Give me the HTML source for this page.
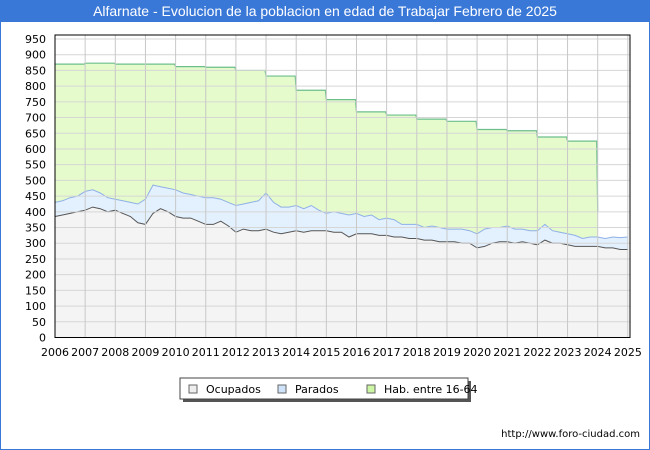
<!DOCTYPE html>
<html><head><meta charset="utf-8"><style>
body{margin:0;width:650px;height:450px;overflow:hidden;background:#fff;font-family:"Liberation Sans","DejaVu Sans",sans-serif}
#frame{position:absolute;left:0;top:0;width:648px;height:448px;border:1px solid #3a78d8}
#title{position:absolute;left:0;top:0;width:650px;height:22px;background:#3a78d8;color:#fff;font-size:14px;line-height:22px;text-align:center}
svg text{font-family:"DejaVu Sans","Liberation Sans",sans-serif}
</style></head><body>
<div id="frame"></div>
<div id="title">Alfarnate - Evolucion de la poblacion en edad de Trabajar Febrero de 2025</div>
<svg id="chart" width="650" height="450" style="position:absolute;left:0;top:0"></svg>
<script>
const years=[2006,2007,2008,2009,2010,2011,2012,2013,2014,2015,2016,2017,2018,2019,2020,2021,2022,2023,2024,2025];
const yTicks=[0,50,100,150,200,250,300,350,400,450,500,550,600,650,700,750,800,850,900,950];
const habYears=[2006,2007,2008,2009,2010,2011,2012,2013,2014,2015,2016,2017,2018,2019,2020,2021,2022,2023];
const habValues=[870,873,870,870,862,860,850,832,787,757,718,708,695,688,662,658,638,625];
const totalValues=[430,435,445,450,465,470,460,445,440,435,430,425,440,485,480,475,470,460,455,450,445,445,440,430,420,425,430,435,460,430,415,415,420,410,420,405,395,400,395,390,395,385,390,375,380,375,360,360,360,350,355,350,345,345,345,340,330,345,350,350,355,345,345,340,340,360,340,335,330,325,315,320,320,315,320,318,320];
const ocupadosValues=[385,390,395,400,405,415,410,400,405,395,385,365,360,395,410,400,385,380,380,370,360,360,370,355,335,345,340,340,345,335,330,335,340,335,340,340,340,335,335,320,330,330,330,325,325,320,320,315,315,310,310,305,305,305,300,300,285,290,300,305,305,300,305,300,295,310,300,300,295,290,290,290,290,285,285,280,280];
const legendLabels=["Ocupados","Parados","Hab. entre 16-64"];

const NS="http://www.w3.org/2000/svg";
const svg=document.getElementById('chart');
const L=55,R=630,T=35,B=337.5;
const x=v=>55+(v-2006)*30.15;
const y=v=>337.5-v*(298.5/950);
function el(t,a,p){const e=document.createElementNS(NS,t);for(const k in a)e.setAttribute(k,a[k]);(p||svg).appendChild(e);return e;}
const bg=el('rect',{x:L,y:T,width:R-L,height:B-T,fill:'#fff'});


const qx=i=>x(2006+i*0.25);
let hp=`M${x(2006)},${B}`;
habValues.forEach((v,i)=>{const x0=x(habYears[i]),x1=x(habYears[i]+1)-1;hp+=` L${x0},${y(v)} L${x1},${y(v)}`;});
hp+=` L${x(2024)},${y(400)} L${x(2024)},${B} Z`;
const ha=el('path',{d:hp,fill:'#e5fbcb'});


let hl=hp.replace(/^M[^L]*L/,'M').replace(/ L[^L]*Z$/,'');
const hline=el('path',{d:hl,fill:'none',stroke:'#6cbf8c','stroke-width':1.2});


function series(vals,fill,stroke,name){
  let d=vals.map((v,i)=>`${i?'L':'M'}${qx(i).toFixed(1)},${y(v).toFixed(1)}`).join(' ');
  const a=el('path',{d:d+` L${qx(vals.length-1)},${B} L${L},${B} Z`,fill:fill});
  
  
  const l=el('path',{d:d,fill:'none',stroke:stroke,'stroke-width':1});
  
  
}
series(totalValues,'#e3f0fd','#8fb0e8','parados');
series(ocupadosValues,'#f4f4f4','#555','ocupados');
yTicks.forEach(t=>{const g=el('line',{x1:L,x2:R,y1:y(t),y2:y(t),stroke:'#d6d6d6','stroke-width':1});


const tx=el('text',{x:46,y:y(t)+4,'text-anchor':'end','font-size':11,fill:'#000'});tx.textContent=t;

});
years.forEach(yr=>{const g=el('line',{x1:x(yr),x2:x(yr),y1:T,y2:B,stroke:'#c8c8c8','stroke-width':1});


const tx=el('text',{x:x(yr),y:356,'text-anchor':'middle','font-size':11,fill:'#000'});tx.textContent=yr;

});
const fr=el('rect',{x:L,y:T,width:R-L,height:B-T,fill:'none',stroke:'#000','stroke-width':1});


const lg=el('g',{});


el('rect',{x:183,y:381,width:288,height:21,fill:'#555'},lg);
el('rect',{x:180,y:378,width:288,height:21,fill:'#fff',stroke:'#444'},lg);
const lx=[189,278,367],lc=['#eeeeee','#cfe4fb','#ccf5a4'];
legendLabels.forEach((s,i)=>{
  const r=el('rect',{x:lx[i],y:385,width:8,height:8,fill:lc[i],stroke:'#666'},lg);
  
  
  const t=el('text',{x:lx[i]+17,y:393,'font-size':11,fill:'#000'},lg);t.textContent=s;
  
  
});
const u=el('text',{x:640,y:437,'text-anchor':'end','font-size':10,fill:'#000'});u.textContent='http://www.foro-ciudad.com';


</script>
</body></html>
